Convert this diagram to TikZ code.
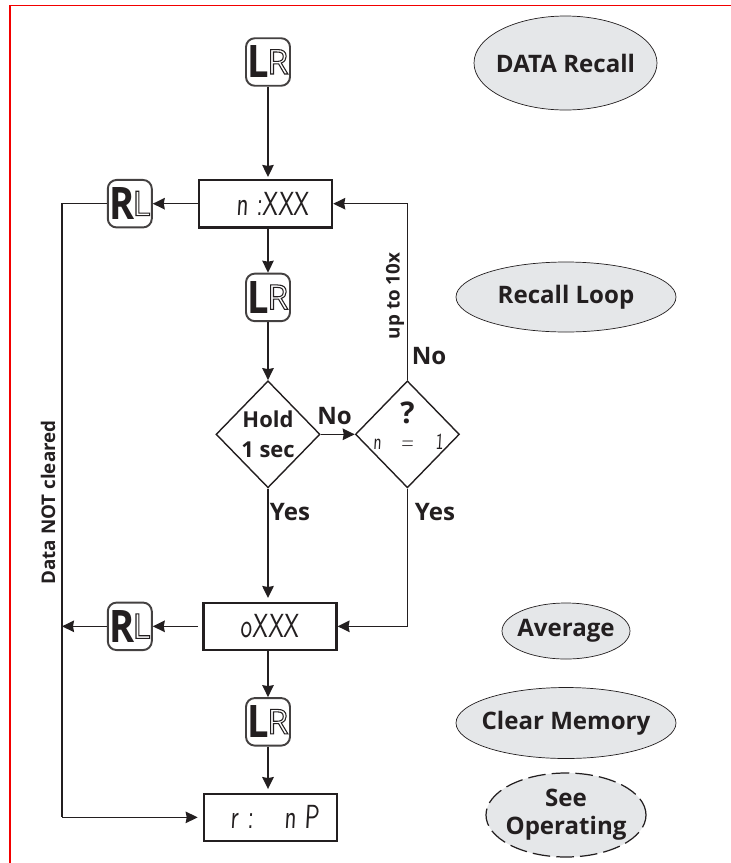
\documentclass[tikz,border=0pt]{standalone}
\usepackage{fontspec}
\setmainfont{Open Sans}
\newfontfamily\segfont[FakeStretch=0.7,FakeSlant=0.06]{lmsans10-regular.otf}
\usetikzlibrary{shapes.geometric, arrows.meta, positioning}
\definecolor{ink}{HTML}{231F20}
\definecolor{oval}{HTML}{E5E7E9}
% outlined letter for the key caps
\newcommand{\outl}[1]{\special{pdf:code 1 Tr 0.6 w}#1\special{pdf:code 0 Tr 1 w}}
\newcommand{\keycap}[2]{\makebox[0.84cm][c]{\scalebox{0.85}[1]{\fontsize{25.5}{26}\selectfont\bfseries #1}\hspace{-1pt}\raisebox{0.08cm}{\fontsize{19.5}{20}\selectfont\outl{#2}}}}
\begin{document}
\begin{tikzpicture}[
    >={Stealth[length=0.24cm,width=0.23cm,inset=0.02cm]},
    color=ink,
    key/.style={draw=ink!85, line width=1.1pt, rounded corners=5pt, fill=white, minimum width=0.88cm, minimum height=0.95cm, inner sep=0pt, text=ink},
    disp/.style={draw=ink, line width=1.4pt, minimum width=2.66cm, minimum height=0.95cm, inner sep=0pt, font=\segfont\fontsize{19}{19}\selectfont},
    disp2/.style={disp, line width=1.2pt},
    dec/.style={draw=ink, diamond, aspect=1, line width=0.8pt, minimum width=2.08cm, minimum height=2.14cm, inner sep=0pt},
    blabel/.style={font=\bfseries\fontsize{13.7}{16}\selectfont, align=center, text=ink, inner sep=0pt},
    hlabel/.style={font=\bfseries\fontsize{12.5}{17}\selectfont, align=center, text=ink, inner sep=0pt},
    vlabel/.style={font=\bfseries\fontsize{10.7}{13}\selectfont, text=ink, inner sep=0pt, rotate=90},
    seg/.style={font=\segfont\fontsize{13}{13}\selectfont, text=ink, inner sep=0pt},
    note/.style={draw=ink, line width=0.4pt, ellipse, fill=oval, inner xsep=-0.7cm, inner ysep=-0.2cm, font=\bfseries\fontsize{13.7}{16}\selectfont, align=center, text=ink},
    arrow/.style={->, line width=0.85pt, draw=ink},
    plainline/.style={line width=0.85pt, draw=ink},
  ]
  \useasboundingbox (0,0) rectangle (14.62,-17.26);
  % Page edge
  \coordinate (ptop) at (14.62,-0.11);
  \coordinate (pcorner) at (0.2,-0.11);
  \coordinate (pbot) at (0.2,-17.26);
  \draw[red!95!black, line width=1.1pt] (ptop) -- (pcorner) -- (pbot);
  % Main column
  \node[key] (lra) at (5.36,-1.24) {\keycap{L}{R}};
  \node[disp, below=1.84cm of lra, xshift=-0.05cm] (nx) {\hspace{0.3cm}n :XXX};
  \node[key, left=0.9cm of nx] (rla) {\keycap{R}{L}};
  \node[key, below=0.88cm of lra |- nx.south] (lrb) {\keycap{L}{R}};
  \node[dec, below=1.16cm of lrb] (hold) {};
  \node[hlabel] (holdt) at (hold) {Hold\\1 sec};
  \node[dec, right=0.68cm of hold] (qn) {};
  \node[font=\bfseries\fontsize{17}{17}\selectfont, inner sep=0pt, above=0.2cm of qn.center] (qm) {?};
  \node[seg, below=0.12cm of qn.center] (qe) {=};
  \node[seg, base left=0.38cm of qe] (qa) {n};
  \node[seg, base right=0.42cm of qe] (qb) {1};
  \node[disp2, below=2.26cm of hold, xshift=0.04cm] (ox) {oXXX\hspace{0.5cm}};
  \node[key] (rlb) at (rla |- ox) {\keycap{R}{L}};
  \node[key, below=0.92cm of ox, xshift=-0.04cm] (lrc) {\keycap{L}{R}};
  \node[disp2, below=0.92cm of lrc, xshift=0.05cm] (rp) {\hspace{0.18cm}r\hspace{0.18cm}:\hspace{0.62cm}n\hspace{0.16cm}P};
  % Left rail
  \coordinate (lc) at (1.24,-10);
  % Connectors
  \draw[arrow, shorten >=1pt] (lra) -- (lra |- nx.north);
  \draw[arrow] (nx.west) -- (rla.east);
  \draw[plainline] (rla.west) -- (lc |- rla.west) -- (lc |- rp.west);
  \draw[arrow, shorten >=3pt] (lc |- rp.west) -- (rp.west);
  \draw[arrow] (rlb.west) -- (lc |- rlb.west);
  \draw[arrow, shorten <=2.5pt] (ox.west) -- (rlb.east);
  \draw[arrow] (lrb |- nx.south) -- (lrb.north);
  \draw[arrow] (lrb) -- (hold);
  \draw[arrow] (hold.east) -- (qn.west);
  \draw[arrow, shorten >=2pt] (hold) -- (hold |- ox.north);
  \draw[arrow] (qn.north) |- (nx.east);
  \draw[arrow] (qn.south) |- (ox.east);
  \draw[arrow] (lrc |- ox.south) -- (lrc.north);
  \draw[arrow, shorten >=2pt] (lrc) -- (lrc |- rp.north);
  % Labels
  \node[vlabel] (upto) at (7.9,-5.92) {up to 10x};
  \node[blabel] (noa) at (8.58,-7.12) {No};
  \node[blabel] (yesa) at (8.7,-10.24) {Yes};
  \node[blabel] (nob) at (6.69,-8.33) {No};
  \node[blabel] (yesb) at (5.8,-10.24) {Yes};
  \node[vlabel] (dnc) at (0.96,-10.05) {Data NOT cleared};
  % Notes
  \node[note, minimum width=3.66cm, minimum height=1.88cm] (ndata) at (11.31,-1.26) {DATA Recall};
  \node[note, minimum width=4.4cm, minimum height=1.4cm] (nloop) at (11.32,-5.94) {Recall Loop};
  \node[note, minimum width=2.56cm, minimum height=1.12cm] (navg) at (11.32,-12.62) {Average};
  \node[note, minimum width=4.4cm, minimum height=1.42cm] (nclear) at (11.32,-14.46) {Clear Memory};
  \node[note, dashed, dash pattern=on 10pt off 3.5pt, line width=0.7pt, minimum width=3.2cm, minimum height=1.68cm] (nsee) at (11.32,-16.3) {See\\Operating};
\end{tikzpicture}
\end{document}
